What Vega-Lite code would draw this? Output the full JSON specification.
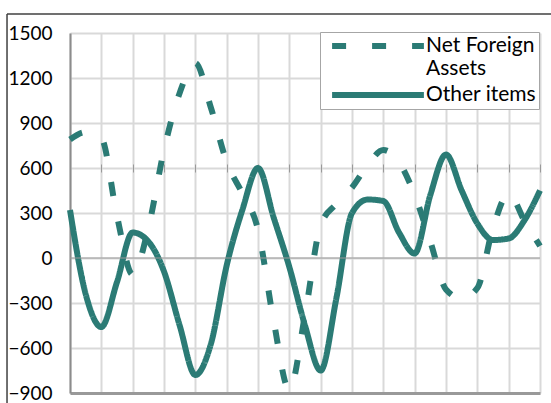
{
  "$schema": "https://vega.github.io/schema/vega-lite/v6.json",
  "width": 470,
  "height": 360,
  "autosize": {"type": "none"},
  "padding": {"left": 70, "top": 33, "right": 11, "bottom": 10},
  "background": "white",
  "title": {"text": "(Rs. billion)", "color": "#2b7b75", "font": "Lato", "fontSize": 23, "fontWeight": "bold", "offset": 30, "dx": -28, "anchor": "middle"},
  "config": {
    "view": {"stroke": null},
    "axis": {"labelFont": "Lato", "labelFontSize": 19, "labelColor": "#000000"},
    "legend": {
      "labelFont": "Lato", "labelFontSize": 21, "labelColor": "#000000",
      "symbolType": "M-5.1,0H5.1", "symbolSize": 324, "symbolStrokeWidth": 6,
      "symbolStrokeColor": "#2b7b75"
    }
  },
  "datasets": {
    "series": [
      {"i": 0, "series": "Net Foreign Assets", "value": 790},
      {"i": 1, "series": "Net Foreign Assets", "value": 840},
      {"i": 2, "series": "Net Foreign Assets", "value": 800},
      {"i": 3, "series": "Net Foreign Assets", "value": 280},
      {"i": 4, "series": "Net Foreign Assets", "value": -110},
      {"i": 5, "series": "Net Foreign Assets", "value": 200},
      {"i": 6, "series": "Net Foreign Assets", "value": 720},
      {"i": 7, "series": "Net Foreign Assets", "value": 1100},
      {"i": 8, "series": "Net Foreign Assets", "value": 1300},
      {"i": 9, "series": "Net Foreign Assets", "value": 1000},
      {"i": 10, "series": "Net Foreign Assets", "value": 640},
      {"i": 11, "series": "Net Foreign Assets", "value": 430},
      {"i": 12, "series": "Net Foreign Assets", "value": 190},
      {"i": 13, "series": "Net Foreign Assets", "value": -420},
      {"i": 14, "series": "Net Foreign Assets", "value": -880},
      {"i": 15, "series": "Net Foreign Assets", "value": -380},
      {"i": 16, "series": "Net Foreign Assets", "value": 220},
      {"i": 17, "series": "Net Foreign Assets", "value": 360},
      {"i": 18, "series": "Net Foreign Assets", "value": 470},
      {"i": 19, "series": "Net Foreign Assets", "value": 620},
      {"i": 20, "series": "Net Foreign Assets", "value": 720},
      {"i": 21, "series": "Net Foreign Assets", "value": 640},
      {"i": 22, "series": "Net Foreign Assets", "value": 420},
      {"i": 23, "series": "Net Foreign Assets", "value": 110},
      {"i": 24, "series": "Net Foreign Assets", "value": -210},
      {"i": 25, "series": "Net Foreign Assets", "value": -270},
      {"i": 26, "series": "Net Foreign Assets", "value": -200},
      {"i": 27, "series": "Net Foreign Assets", "value": 200},
      {"i": 28, "series": "Net Foreign Assets", "value": 430},
      {"i": 29, "series": "Net Foreign Assets", "value": 250},
      {"i": 30, "series": "Net Foreign Assets", "value": 80},
      {"i": 0, "series": "Other items", "value": 320},
      {"i": 1, "series": "Other items", "value": -240},
      {"i": 2, "series": "Other items", "value": -460},
      {"i": 3, "series": "Other items", "value": -160},
      {"i": 4, "series": "Other items", "value": 170},
      {"i": 5, "series": "Other items", "value": 110},
      {"i": 6, "series": "Other items", "value": -90},
      {"i": 7, "series": "Other items", "value": -450},
      {"i": 8, "series": "Other items", "value": -780},
      {"i": 9, "series": "Other items", "value": -570},
      {"i": 10, "series": "Other items", "value": -50},
      {"i": 11, "series": "Other items", "value": 320},
      {"i": 12, "series": "Other items", "value": 600},
      {"i": 13, "series": "Other items", "value": 270},
      {"i": 14, "series": "Other items", "value": -60},
      {"i": 15, "series": "Other items", "value": -450},
      {"i": 16, "series": "Other items", "value": -750},
      {"i": 17, "series": "Other items", "value": -270},
      {"i": 18, "series": "Other items", "value": 300},
      {"i": 19, "series": "Other items", "value": 390},
      {"i": 20, "series": "Other items", "value": 380},
      {"i": 21, "series": "Other items", "value": 170},
      {"i": 22, "series": "Other items", "value": 30},
      {"i": 23, "series": "Other items", "value": 420},
      {"i": 24, "series": "Other items", "value": 690},
      {"i": 25, "series": "Other items", "value": 450},
      {"i": 26, "series": "Other items", "value": 230},
      {"i": 27, "series": "Other items", "value": 120},
      {"i": 28, "series": "Other items", "value": 130},
      {"i": 29, "series": "Other items", "value": 250},
      {"i": 30, "series": "Other items", "value": 450}
    ]
  },
  "layer": [
    {
      "data": {"name": "series"},
      "mark": {"type": "line", "color": "#2b7b75", "strokeWidth": 6, "interpolate": "monotone", "strokeCap": "butt", "strokeJoin": "round"},
      "encoding": {
        "x": {"field": "i", "type": "quantitative", "scale": {"domain": [0, 30], "nice": false, "zero": false},
          "axis": {"title": null, "labels": false, "ticks": false, "grid": true, "values": [0,2,4,6,8,10,12,14,16,18,20,22,24,26,28,30],
            "gridColor": "#d9d9d9", "gridWidth": 2, "domain": true, "domainColor": "#999999", "domainWidth": 3}},
        "y": {"field": "value", "type": "quantitative", "scale": {"domain": [-900, 1500], "nice": false},
          "axis": {"title": null, "format": "d", "values": [-900,-600,-300,0,300,600,900,1200,1500], "grid": true, "gridColor": "#d9d9d9", "gridWidth": 2,
            "ticks": false, "labelPadding": 18, "domain": true, "domainColor": "#8c8c8c", "domainWidth": 2}},
        "strokeDash": {"field": "series", "type": "nominal",
          "scale": {"domain": ["Net Foreign Assets", "Other items"], "range": [[14, 26], [1, 0]]},
          "legend": {"title": null, "orient": "none", "legendX": 250, "legendY": -1, "padding": 2,
            "fillColor": "white", "strokeColor": "#a6a6a6", "symbolOffset": 44, "labelOffset": 36, "rowPadding": 4,
            "labelBaseline": "middle",
            "labelExpr": "datum.label == 'Net Foreign Assets' ? ['Net Foreign', 'Assets'] : datum.label"}}
      }
    },
    {
      "data": {"values": [{}]},
      "mark": {"type": "rule", "color": "#9a9a9a", "strokeWidth": 1},
      "encoding": {
        "x": {"datum": 0, "type": "quantitative", "axis": {"title": null, "labels": false, "domain": false, "grid": false, "ticks": true, "tickColor": "#9a9a9a", "tickWidth": 1, "tickSize": 8, "offset": -139, "values": [0,2,4,6,8,10,12,14,16,18,20,22,24,26,28,30]}},
        "x2": {"datum": 30},
        "y": {"datum": 0, "type": "quantitative"}
      }
    },
    {
      "data": {"values": [{}]},
      "mark": {"type": "rule", "color": "#404040", "strokeWidth": 1.5, "clip": false},
      "encoding": {
        "x": {"datum": -4.02, "type": "quantitative", "axis": null},
        "x2": {"datum": 32},
        "y": {"datum": 1626, "type": "quantitative"}
      }
    },
    {
      "data": {"values": [{}]},
      "mark": {"type": "rule", "color": "#404040", "strokeWidth": 1.5, "clip": false},
      "encoding": {
        "x": {"datum": -4.02, "type": "quantitative", "axis": null},
        "y": {"datum": 1626, "type": "quantitative"},
        "y2": {"datum": -1000}
      }
    }
  ],
  "resolve": {"axis": {"x": "independent"}}
}
